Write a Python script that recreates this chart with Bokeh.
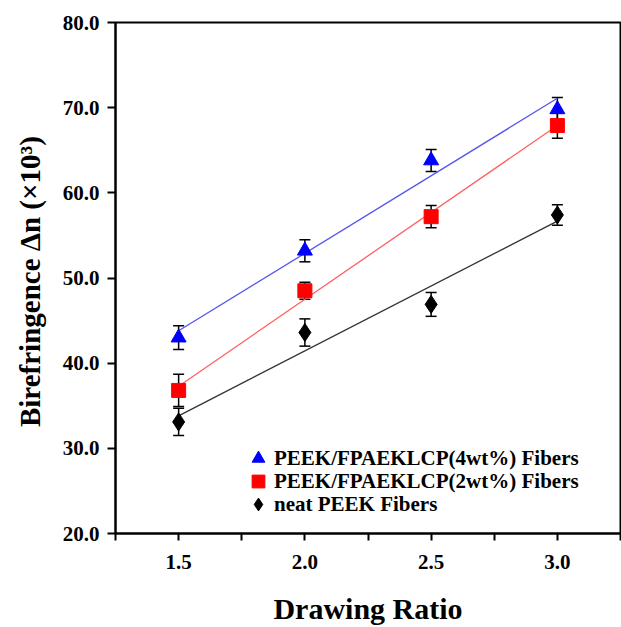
import numpy as np
from bokeh.plotting import figure
from bokeh.models import (ColumnDataSource, Whisker, TeeHead, Legend, LegendItem,
                          FixedTicker, NumeralTickFormatter, Range1d)
from bokeh.embed import file_html
from bokeh.resources import INLINE

# ---- data ----
ratios = [1.5, 2.0, 2.5, 3.0]
peek4 = [43.0, 53.2, 63.8, 69.8]
err4 = [1.4, 1.3, 1.3, 1.4]
peek2 = [36.8, 48.5, 57.2, 67.9]
err2 = [1.9, 1.0, 1.3, 1.5]
neat = [33.1, 43.6, 46.9, 57.4]
errn = [1.6, 1.6, 1.4, 1.2]

labels = ["PEEK/FPAEKLCP(4wt%) Fibers", "PEEK/FPAEKLCP(2wt%) Fibers", "neat PEEK Fibers"]
x_ticks = [1.5, 2.0, 2.5, 3.0]
x_minor = [1.25, 1.75, 2.25, 2.75, 3.25]
y_ticks = [20, 30, 40, 50, 60, 70, 80]

FONT = "Liberation Serif"

p = figure(width=621, height=627, output_backend="svg", toolbar_location=None,
           x_range=Range1d(1.25, 3.25), y_range=Range1d(20, 80),
           min_border_left=115, min_border_right=1, min_border_top=22, min_border_bottom=90)
p.background_fill_color = "white"
p.border_fill_color = "white"
p.grid.visible = False
p.outline_line_color = "black"
p.outline_line_width = 2

series = [
    (peek4, err4, "#0000ff", "triangle", 15, "#5555ee"),
    (peek2, err2, "#ff0000", "square", 14, "#ff6060"),
    (neat, errn, "#000000", "diamond", 18, "#333333"),
]
legend_offsets = [59, 36, 13]

xs = np.array(ratios)
for (vals, errs, col, marker, size, lcol), lab, off in zip(series, labels, legend_offsets):
    v = np.array(vals)
    e = np.array(errs)
    src = ColumnDataSource(dict(x=ratios, y=vals, upper=list(v + e), lower=list(v - e)))
    w = Whisker(base="x", upper="upper", lower="lower", source=src,
                line_color="black", line_width=1.5,
                upper_head=TeeHead(size=11, line_color="black", line_width=1.5),
                lower_head=TeeHead(size=11, line_color="black", line_width=1.5))
    p.add_layout(w)
    k, b = np.polyfit(xs, v, 1)
    fx = [ratios[0], ratios[-1]]
    p.line(fx, [k * fx[0] + b, k * fx[1] + b], line_color=lcol, line_width=1.3)
    r = p.scatter("x", "y", source=src, marker=marker, size=size,
                  fill_color=col, line_color=col)
    lg = Legend(items=[LegendItem(label=lab, renderers=[r])], location=(127, off),
                background_fill_alpha=0, border_line_alpha=0, padding=0, margin=0,
                spacing=0, label_text_font=FONT, label_text_font_style="bold",
                label_text_color="black", label_text_font_size="21px",
                label_height=23, glyph_height=32, glyph_width=32, label_standoff=0)
    p.add_layout(lg)

# axes
xa = p.xaxis[0]
xa.ticker = FixedTicker(ticks=x_ticks, minor_ticks=x_minor)
xa.axis_line_width = 2
xa.axis_line_color = "black"
xa.major_tick_line_width = 2
xa.minor_tick_line_width = 2
xa.major_tick_line_color = "black"
xa.minor_tick_line_color = "black"
xa.major_tick_out = 7
xa.major_tick_in = 0
xa.minor_tick_out = 7
xa.minor_tick_in = 0
xa.formatter = NumeralTickFormatter(format="0.0")
xa.major_label_text_font = FONT
xa.major_label_text_font_style = "bold"
xa.major_label_text_font_size = "21px"
xa.major_label_text_color = "black"
xa.major_label_standoff = 14
xa.axis_label = "Drawing Ratio"
xa.axis_label_text_font = FONT
xa.axis_label_text_font_style = "bold"
xa.axis_label_text_font_size = "30px"
xa.axis_label_text_color = "black"
xa.axis_label_standoff = 20

ya = p.yaxis[0]
ya.ticker = FixedTicker(ticks=y_ticks, minor_ticks=[])
ya.axis_line_width = 2
ya.axis_line_color = "black"
ya.major_tick_line_width = 2
ya.major_tick_line_color = "black"
ya.major_tick_out = 8
ya.major_tick_in = 0
ya.formatter = NumeralTickFormatter(format="0.0")
ya.major_label_text_font = FONT
ya.major_label_text_font_style = "bold"
ya.major_label_text_font_size = "21px"
ya.major_label_text_color = "black"
ya.major_label_standoff = 8
ya.axis_label = "Birefringence  \u0394n (\u00d710\u00b3)"
ya.axis_label_text_font = FONT
ya.axis_label_text_font_style = "bold"
ya.axis_label_text_font_size = "29px"
ya.axis_label_text_color = "black"
ya.axis_label_standoff = 14

open("out.html", "w").write(file_html(p, INLINE))
